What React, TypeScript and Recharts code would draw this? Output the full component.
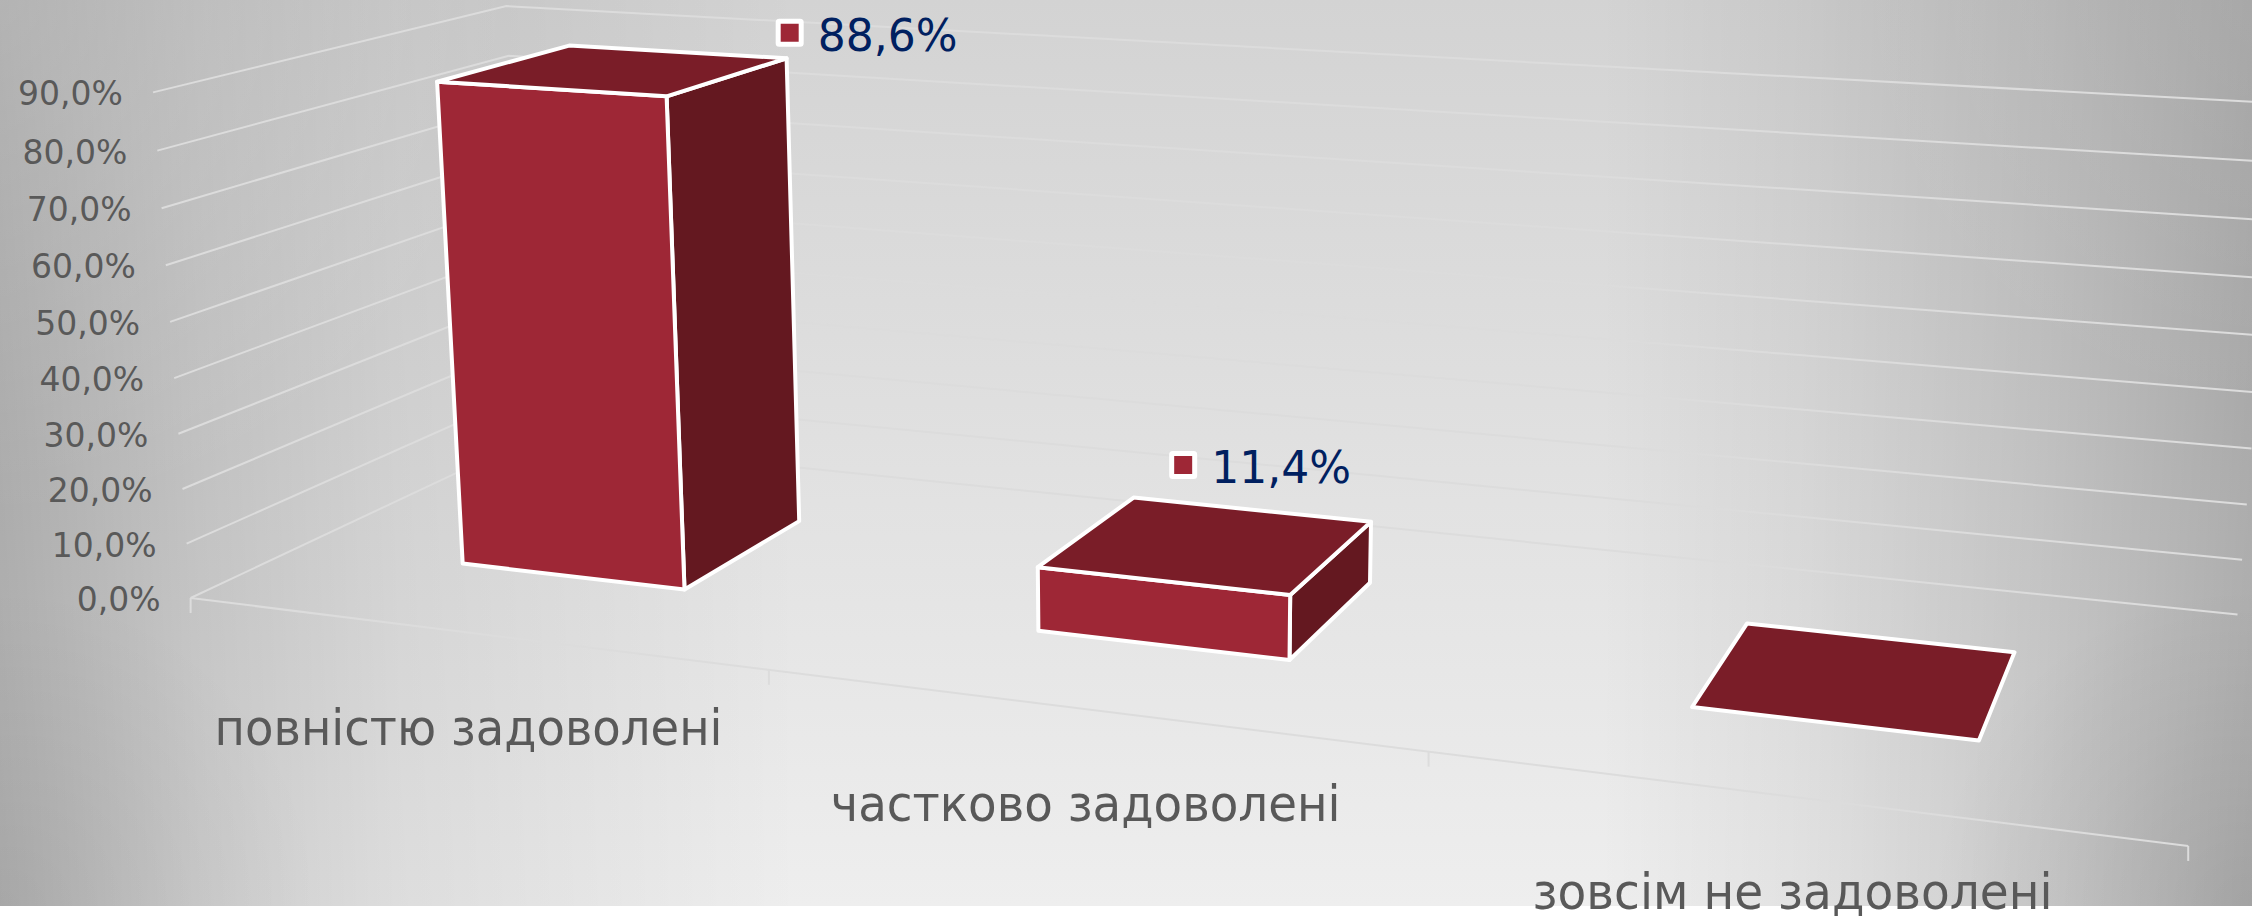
import React from "react";
import { BarChart, Bar, XAxis, YAxis, CartesianGrid, LabelList } from "recharts";

const categories = ["повністю задоволені", "частково задоволені", "зовсім не задоволені"];
const shares = [88.6, 11.4, 0];
const valueTicks = [0, 10, 20, 30, 40, 50, 60, 70, 80, 90];
const tableRows = categories.map((name, i) => ({ name, share: shares[i] }));

const W = 2252;
const H = 919;
const AXIS_SIZE = 1;
const PLOT_W = W - AXIS_SIZE;
const PLOT_H = H - AXIS_SIZE;
const AXIS_MAX = 90;
const DEPTH_FRONT = 0.3;
const DEPTH_BACK = 0.7;
const FRONT_COLOR = "#9e2736";
const TOP_COLOR = "#7a1d28";
const SIDE_COLOR = "#641820";
const GRID_COLOR = "#dcdcdc";
const labelOffsets = [[174, -37], [-25, -79], [0, 0]];
const categoryWidths = [508, 510, 520];

// Camera calibration: scene point (across, depth, height) -> picture point
const calibration: number[][] = [
  [0, 0, 0, 193, 598], [1 / 3, 0, 0, 767, 669], [2 / 3, 0, 0, 1425, 753], [1, 0, 0, 2188, 848],
  [0, 0, 1, 150, 92], [0, 0, 5 / 9, 169, 322], [0, 1, 1, 510, 7], [0, 1, 0, 520, 441],
  [1, 1, 0, 2238, 614.5], [1, 1, 1, 2280, 101.5],
  [0.1, 0.3, 0.9844, 437, 82], [0.2333, 0.3, 0.9844, 665, 97], [0.2333, 0.3, 0, 686, 587], [0.1, 0.3, 0, 466, 563],
  [0.2333, 0.7, 0.9844, 786, 59], [0.2333, 0.7, 0, 800, 521], [0.1, 0.7, 0.9844, 571, 45],
  [0.4333, 0.3, 0.1267, 1040, 568], [0.5667, 0.3, 0.1267, 1289, 594], [0.5667, 0.3, 0, 1289, 658], [0.4333, 0.3, 0, 1040, 631],
  [0.5667, 0.7, 0.1267, 1370, 522], [0.5667, 0.7, 0, 1370, 582], [0.4333, 0.7, 0.1267, 1137, 498],
  [0.7667, 0.3, 0, 1695, 708], [0.9, 0.3, 0, 1980, 741], [0.9, 0.7, 0, 2012, 652], [0.7667, 0.7, 0, 1748, 624],
];

function solveCamera(points: number[][]): number[] {
  const rows: number[][] = [];
  const rhs: number[] = [];
  for (const [u, d, v, px, py] of points) {
    const x = px / 1000;
    const y = py / 1000;
    rows.push([u, d, v, 1, 0, 0, 0, 0, -x * u, -x * d, -x * v]);
    rhs.push(x);
    rows.push([0, 0, 0, 0, u, d, v, 1, -y * u, -y * d, -y * v]);
    rhs.push(y);
  }
  const n = 11;
  const m: number[][] = [];
  for (let i = 0; i < n; i++) {
    const row = new Array(n + 1).fill(0);
    for (let j = 0; j < n; j++) rows.forEach((r) => (row[j] += r[i] * r[j]));
    rows.forEach((r, k) => (row[n] += r[i] * rhs[k]));
    m.push(row);
  }
  for (let c = 0; c < n; c++) {
    let p = c;
    for (let r = c + 1; r < n; r++) if (Math.abs(m[r][c]) > Math.abs(m[p][c])) p = r;
    [m[c], m[p]] = [m[p], m[c]];
    for (let r = 0; r < n; r++) {
      if (r === c) continue;
      const f = m[r][c] / m[c][c];
      for (let k = c; k <= n; k++) m[r][k] -= f * m[c][k];
    }
  }
  return m.map((row, i) => row[n] / row[i]);
}

const cam = solveCamera(calibration);

function project(u: number, d: number, v: number): [number, number] {
  const w = cam[8] * u + cam[9] * d + cam[10] * v + 1;
  return [
    (1000 * (cam[0] * u + cam[1] * d + cam[2] * v + cam[3])) / w,
    (1000 * (cam[4] * u + cam[5] * d + cam[6] * v + cam[7])) / w,
  ];
}

const toPath = (pts: [number, number][], close = true) =>
  "M" + pts.map((p) => p[0].toFixed(1) + "," + p[1].toFixed(1)).join("L") + (close ? "Z" : "");

const uOf = (x: number) => (x - AXIS_SIZE) / PLOT_W;
const vOf = (y: number) => (PLOT_H - y) / PLOT_H;

function Box3D(props: any) {
  const { x, y, width, height } = props;
  const u0 = uOf(x);
  const u1 = uOf(x + width);
  const top = vOf(y);
  const base = vOf(y + height);
  const common = { stroke: "#ffffff", strokeWidth: 4, strokeLinejoin: "round" as const };
  const hasHeight = top - base > 0.001;
  return (
    <g>
      {hasHeight && (
        <path
          d={toPath([project(u1, DEPTH_FRONT, top), project(u1, DEPTH_BACK, top), project(u1, DEPTH_BACK, base), project(u1, DEPTH_FRONT, base)])}
          fill={SIDE_COLOR}
          {...common}
        />
      )}
      {hasHeight && (
        <path
          d={toPath([project(u0, DEPTH_FRONT, top), project(u1, DEPTH_FRONT, top), project(u1, DEPTH_FRONT, base), project(u0, DEPTH_FRONT, base)])}
          fill={FRONT_COLOR}
          {...common}
        />
      )}
      <path
        d={toPath([project(u0, DEPTH_FRONT, top), project(u1, DEPTH_FRONT, top), project(u1, DEPTH_BACK, top), project(u0, DEPTH_BACK, top)])}
        fill={TOP_COLOR}
        {...common}
      />
    </g>
  );
}

function ValueTick(props: any) {
  const { y, payload } = props;
  const [px, py] = project(0, 0, vOf(y));
  return (
    <text x={px - 30} y={py + 13} textAnchor="end" fontFamily="DejaVu Sans" fontSize={33} fill="#595959">
      {payload.value.toFixed(1).replace(".", ",") + "%"}
    </text>
  );
}

function CategoryTick(props: any) {
  const { x, payload, index } = props;
  const band = PLOT_W / categories.length;
  const [cx, cy] = project(uOf(x), 0, 0);
  const [lx, ly] = project(uOf(x - band / 2), 0, 0);
  const [rx, ry] = project(uOf(x + band / 2), 0, 0);
  return (
    <g>
      <path d={`M${lx},${ly}L${lx},${ly + 15}`} stroke={GRID_COLOR} strokeWidth={2} fill="none" />
      {index === categories.length - 1 && (
        <path d={`M${rx},${ry}L${rx},${ry + 15}`} stroke={GRID_COLOR} strokeWidth={2} fill="none" />
      )}
      <text
        x={cx - 2}
        y={cy + 112}
        textAnchor="middle"
        fontFamily="DejaVu Sans"
        fontSize={50}
        fill="#595959"
        textLength={categoryWidths[index]}
        lengthAdjust="spacingAndGlyphs"
      >
        {payload.value}
      </text>
    </g>
  );
}

function GridLine(props: any) {
  const { y1 } = props;
  const v = vOf(y1);
  const pts = [project(0, 0, v), project(0, 1, v), project(1, 1, v)];
  return (
    <g key={"grid-" + y1}>
      <path d={toPath(pts, false)} fill="none" stroke={GRID_COLOR} strokeWidth={2} />
      {v < 0.001 && <path d={toPath([project(0, 0, 0), project(1, 0, 0)], false)} fill="none" stroke={GRID_COLOR} strokeWidth={2} />}
    </g>
  );
}

function ShareLabel(props: any) {
  const { x, y, width, value, index } = props;
  if (!value) return null;
  const [cx, cy] = project(uOf(x + width / 2), (DEPTH_FRONT + DEPTH_BACK) / 2, vOf(y));
  const [dx, dy] = labelOffsets[index];
  const sx = cx + dx;
  const sy = cy + dy;
  return (
    <g>
      <rect x={sx - 11.5} y={sy - 11.5} width={23} height={23} fill={FRONT_COLOR} stroke="#ffffff" strokeWidth={5} rx={1} />
      <text x={sx + 28} y={sy + 18} fontFamily="DejaVu Sans" fontSize={44} fill="#002060">
        {Number(value).toFixed(1).replace(".", ",") + "%"}
      </text>
    </g>
  );
}

const background = [
  "radial-gradient(circle 320px at 0px 906px, rgba(0,0,0,0.08), rgba(0,0,0,0))",
  "radial-gradient(circle 320px at 2252px 906px, rgba(0,0,0,0.1), rgba(0,0,0,0))",
  "radial-gradient(circle 520px at 0px 0px, rgba(255,255,255,0.2), rgba(255,255,255,0))",
  "radial-gradient(circle 420px at 2252px 0px, rgba(255,255,255,0.08), rgba(255,255,255,0))",
  "linear-gradient(90deg, rgba(0,0,0,0.24) 0%, rgba(0,0,0,0.14) 8.9%, rgba(0,0,0,0.07) 17.8%, rgba(0,0,0,0) 35.5%, rgba(0,0,0,0) 71%, rgba(0,0,0,0.05) 80%, rgba(0,0,0,0.14) 90.5%, rgba(0,0,0,0.24) 100%)",
  "linear-gradient(180deg, #d3d3d3 0%, #eeeeee 100%)",
].join(",");

export default function App() {
  return (
    <div style={{ position: "absolute", left: 0, top: 0, width: W, height: H, background: "#ffffff", overflow: "hidden" }}>
      <div style={{ position: "absolute", left: 0, top: 0, width: W, height: 906, background }} />
      <div style={{ position: "absolute", left: 0, top: 0 }}>
        <BarChart width={W} height={H} data={tableRows} margin={{ top: 0, right: 0, bottom: 0, left: 0 }} barCategoryGap="30%">
          <CartesianGrid vertical={false} horizontal={GridLine as any} />
          <XAxis dataKey="name" height={AXIS_SIZE} axisLine={false} tickLine={false} interval={0} tick={CategoryTick as any} />
          <YAxis width={AXIS_SIZE} domain={[0, AXIS_MAX]} ticks={valueTicks} interval={0} axisLine={false} tickLine={false} tick={ValueTick as any} />
          <Bar dataKey="share" isAnimationActive={false} shape={Box3D as any}>
            <LabelList dataKey="share" content={ShareLabel as any} />
          </Bar>
        </BarChart>
      </div>
    </div>
  );
}
